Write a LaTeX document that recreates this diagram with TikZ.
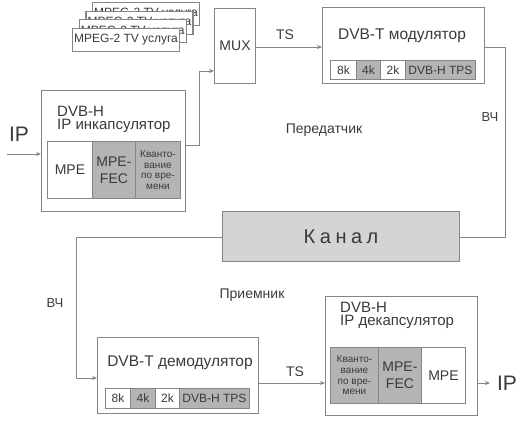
\documentclass[tikz,border=0pt]{standalone}
\usepackage{fontspec}
\setmainfont{Liberation Sans}
\usetikzlibrary{arrows.meta}
\definecolor{ln}{HTML}{858585}
\definecolor{tx}{HTML}{3A3A3A}
\definecolor{cellgray}{HTML}{B4B4B4}
\definecolor{chan}{HTML}{D4D4D4}
\tikzset{
  box/.style={draw=ln, line width=1.1pt, fill=white, inner sep=0pt, anchor=north west, text=tx},
  cellw/.style={draw=ln, line width=0.9pt, fill=white, inner sep=0pt, anchor=north west, text=tx, align=center},
  cellg/.style={cellw, fill=cellgray},
  wire/.style={draw=ln, line width=1pt},
  arr/.style={wire, -{Stealth[length=5pt,width=4pt]}},
  lbl/.style={text=tx, inner sep=0pt},
}
\begin{document}
\begin{tikzpicture}[x=1pt,y=-1pt]
\useasboundingbox (0,0) rectangle (524,421);
% MPEG stacked boxes
\foreach \i/\x/\y in {4/92/2,3/85.4/10.6,2/78.7/19.3,1/72/28}{
  \node[box, minimum width=107pt, minimum height=23pt, font=\fontsize{12}{14}\selectfont] (mpeg\i) at (\x,\y) {MPEG-2 TV услуга};
}
% MUX
\node[box, minimum width=41pt, minimum height=75pt, font=\fontsize{14}{16}\selectfont] (mux) at (214,8) {MUX};
% Encapsulator
\node[box, minimum width=144pt, minimum height=121pt] (enc) at (41,90) {};
\node[lbl, anchor=west, font=\fontsize{15}{14}\selectfont] (enct1) at (57,111.5) {DVB-H};
\node[lbl, anchor=west, font=\fontsize{15}{14}\selectfont] (enct2) at (57,125.5) {IP инкапсулятор};
\node[cellw, minimum width=45pt, minimum height=57pt, font=\fontsize{14}{17}\selectfont] (e1) at (47,141) {MPE};
\node[cellg, minimum width=43pt, minimum height=57pt, font=\fontsize{14}{17}\selectfont] (e2) at (92,141) {MPE-\\FEC};
\node[cellg, minimum width=45pt, minimum height=57pt, font=\fontsize{10}{10.6}\selectfont] (e3) at (135,141) {Кванто-\\вание\\по вре-\\мени};
% Modulator
\node[box, minimum width=162pt, minimum height=76pt] (mod) at (322,7) {};
\node[lbl, font=\fontsize{15.5}{16}\selectfont] (modt) at (402,36) {DVB-T модулятор};
\node[cellw, minimum width=26pt, minimum height=19pt, font=\fontsize{12}{14}\selectfont] (m1) at (330,60) {8k};
\node[cellg, minimum width=24pt, minimum height=19pt, font=\fontsize{12}{14}\selectfont] (m2) at (356,60) {4k};
\node[cellw, minimum width=25pt, minimum height=19pt, font=\fontsize{12}{14}\selectfont] (m3) at (380,60) {2k};
\node[cellg, minimum width=70pt, minimum height=19pt, font=\fontsize{12}{14}\selectfont] (m4) at (405,60) {DVB-H TPS};
% Channel
\node[box, fill=chan, minimum width=237pt, minimum height=50pt, font=\fontsize{20}{22}\selectfont] (chan) at (222,211) {К\hspace{4.5pt}а\hspace{4.5pt}н\hspace{4.5pt}а\hspace{4.5pt}л};
% Demodulator
\node[box, minimum width=161pt, minimum height=76pt] (dem) at (97,337) {};
\node[lbl, font=\fontsize{15.5}{16}\selectfont] (demt) at (180,363) {DVB-T демодулятор};
\node[cellw, minimum width=25pt, minimum height=20pt, font=\fontsize{12}{14}\selectfont] (d1) at (105,388) {8k};
\node[cellg, minimum width=25pt, minimum height=20pt, font=\fontsize{12}{14}\selectfont] (d2) at (130,388) {4k};
\node[cellw, minimum width=24pt, minimum height=20pt, font=\fontsize{12}{14}\selectfont] (d3) at (155,388) {2k};
\node[cellg, minimum width=70pt, minimum height=20pt, font=\fontsize{12}{14}\selectfont] (d4) at (179,388) {DVB-H TPS};
% Decapsulator
\node[box, minimum width=152pt, minimum height=119pt] (dec) at (325,296) {};
\node[lbl, anchor=west, font=\fontsize{15}{14}\selectfont] (dect1) at (340,307) {DVB-H};
\node[lbl, anchor=west, font=\fontsize{15}{14}\selectfont] (dect2) at (340,321.5) {IP декапсулятор};
\node[cellg, minimum width=48pt, minimum height=56pt, font=\fontsize{10}{10.6}\selectfont] (c1) at (330,347) {Кванто-\\вание\\по вре-\\мени};
\node[cellg, minimum width=43pt, minimum height=56pt, font=\fontsize{14}{17}\selectfont] (c2) at (378,347) {MPE-\\FEC};
\node[cellw, minimum width=44pt, minimum height=56pt, font=\fontsize{14}{17}\selectfont] (c3) at (421,347) {MPE};
% connectors
\coordinate (ipin) at (7,154);
\draw[arr] (ipin) -- (ipin -| enc.west);
\node[lbl, font=\fontsize{21}{22}\selectfont] (iplbl) at (19,134) {IP};
\coordinate (j1) at (199,145);
\coordinate (j2) at (199,71);
\draw[arr] (enc.east |- j1) -- (j1) -- (j2) -- (j2 -| mux.west);
\coordinate (k1) at (290,47);
\draw[arr] (k1 -| mux.east) -- (k1 -| mod.west);
\node[lbl, font=\fontsize{14}{16}\selectfont] (ts1) at (285,35) {TS};
\coordinate (r1) at (505,47);
\coordinate (r2) at (505,237);
\draw[wire] (r1 -| mod.east) -- (r1) -- (r2) -- (r2 -| chan.east);
\node[lbl, font=\fontsize{13}{15}\selectfont] (vch1) at (490,117) {ВЧ};
\node[lbl, font=\fontsize{14}{16}\selectfont] (tx1) at (324,130) {Передатчик};
\coordinate (l1) at (76,237);
\coordinate (l2) at (76,378);
\draw[arr] (l1 -| chan.west) -- (l1) -- (l2) -- (l2 -| dem.west);
\node[lbl, font=\fontsize{13}{15}\selectfont] (vch2) at (55,303) {ВЧ};
\node[lbl, font=\fontsize{14}{16}\selectfont] (rx1) at (252,295) {Приемник};
\coordinate (t1) at (290,383);
\draw[arr] (t1 -| dem.east) -- (t1 -| dec.west);
\node[lbl, font=\fontsize{14}{16}\selectfont] (ts2) at (295,372) {TS};
\coordinate (o1) at (490,383);
\draw[arr] (o1 -| dec.east) -- (o1);
\node[lbl, font=\fontsize{21}{22}\selectfont] (iplbl2) at (507,383) {IP};
\end{tikzpicture}
\end{document}
